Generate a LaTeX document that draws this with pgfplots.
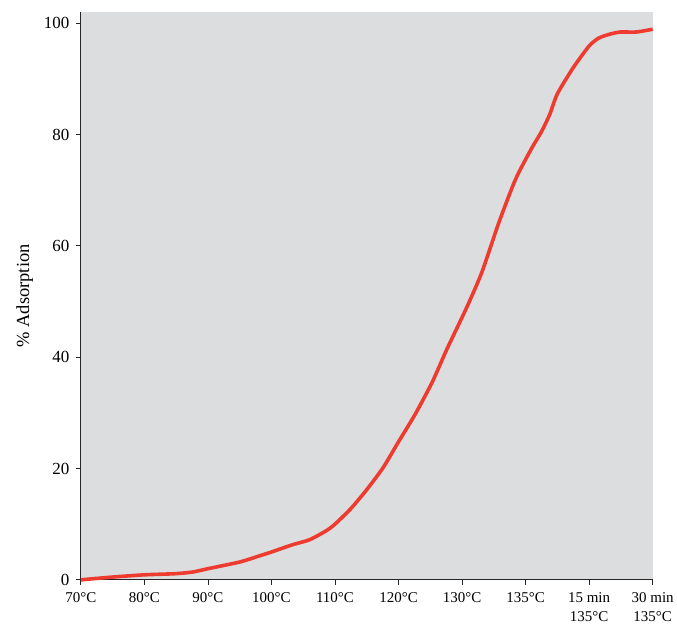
\documentclass[border=0pt]{standalone}
\usepackage{fontspec}
\setmainfont{Liberation Serif}
\usepackage{pgfplots}
\pgfplotsset{compat=1.18}
\definecolor{bgg}{HTML}{DCDDDF}
\definecolor{lred}{HTML}{EE3B2F}
\begin{document}
\begin{tikzpicture}[x=1pt,y=1pt]
\begin{axis}[
  scale only axis,
  width=573pt, height=569pt,
  xmin=0, xmax=9, ymin=0, ymax=102,
  axis lines=left,
  axis line style={-, black!85, line width=0.8pt},
  axis background/.style={fill=bgg},
  xtick={0,...,9},
  xticklabels={70°C,80°C,90°C,100°C,110°C,120°C,130°C,135°C,{15 min\\135°C},{30 min\\135°C}},
  xticklabel style={align=center, font=\fontsize{15}{19}\selectfont, yshift=-4.5pt},
  ytick={0,20,...,100},
  yticklabel style={font=\fontsize{17}{18}\selectfont, xshift=-3pt},
  /pgf/number format/assume math mode=true,
  tick style={black!85, line width=0.8pt},
  tick align=outside,
  major tick length=5pt,
  ylabel={\% Adsorption},
  ylabel style={font=\fontsize{18.5}{20}\selectfont, yshift=4pt},
  clip=false,
]
\addplot[lred, line width=3.6pt, smooth, tension=0.4] coordinates {
(0,0) (0.5,0.5) (1,0.9) (1.48,1.1) (1.76,1.4) (2,2) (2.5,3.2) (2.81,4.3) (3,5.0)
(3.33,6.3) (3.6,7.2) (3.86,8.8) (4,10) (4.25,12.8) (4.5,16.2) (4.76,20.2)
(5,24.8) (5.26,29.7) (5.53,35.5) (5.76,41.4) (6.06,48.6) (6.31,55.2) (6.58,64.2)
(6.84,71.9) (7.08,77.2) (7.25,80.5) (7.38,83.6) (7.5,87.3) (7.75,92) (8,95.9)
(8.15,97.3) (8.32,98) (8.49,98.4) (8.74,98.4) (9,98.9)
};
\end{axis}
\path (-81pt,-45pt) rectangle (596pt,581pt);
\end{tikzpicture}
\end{document}
